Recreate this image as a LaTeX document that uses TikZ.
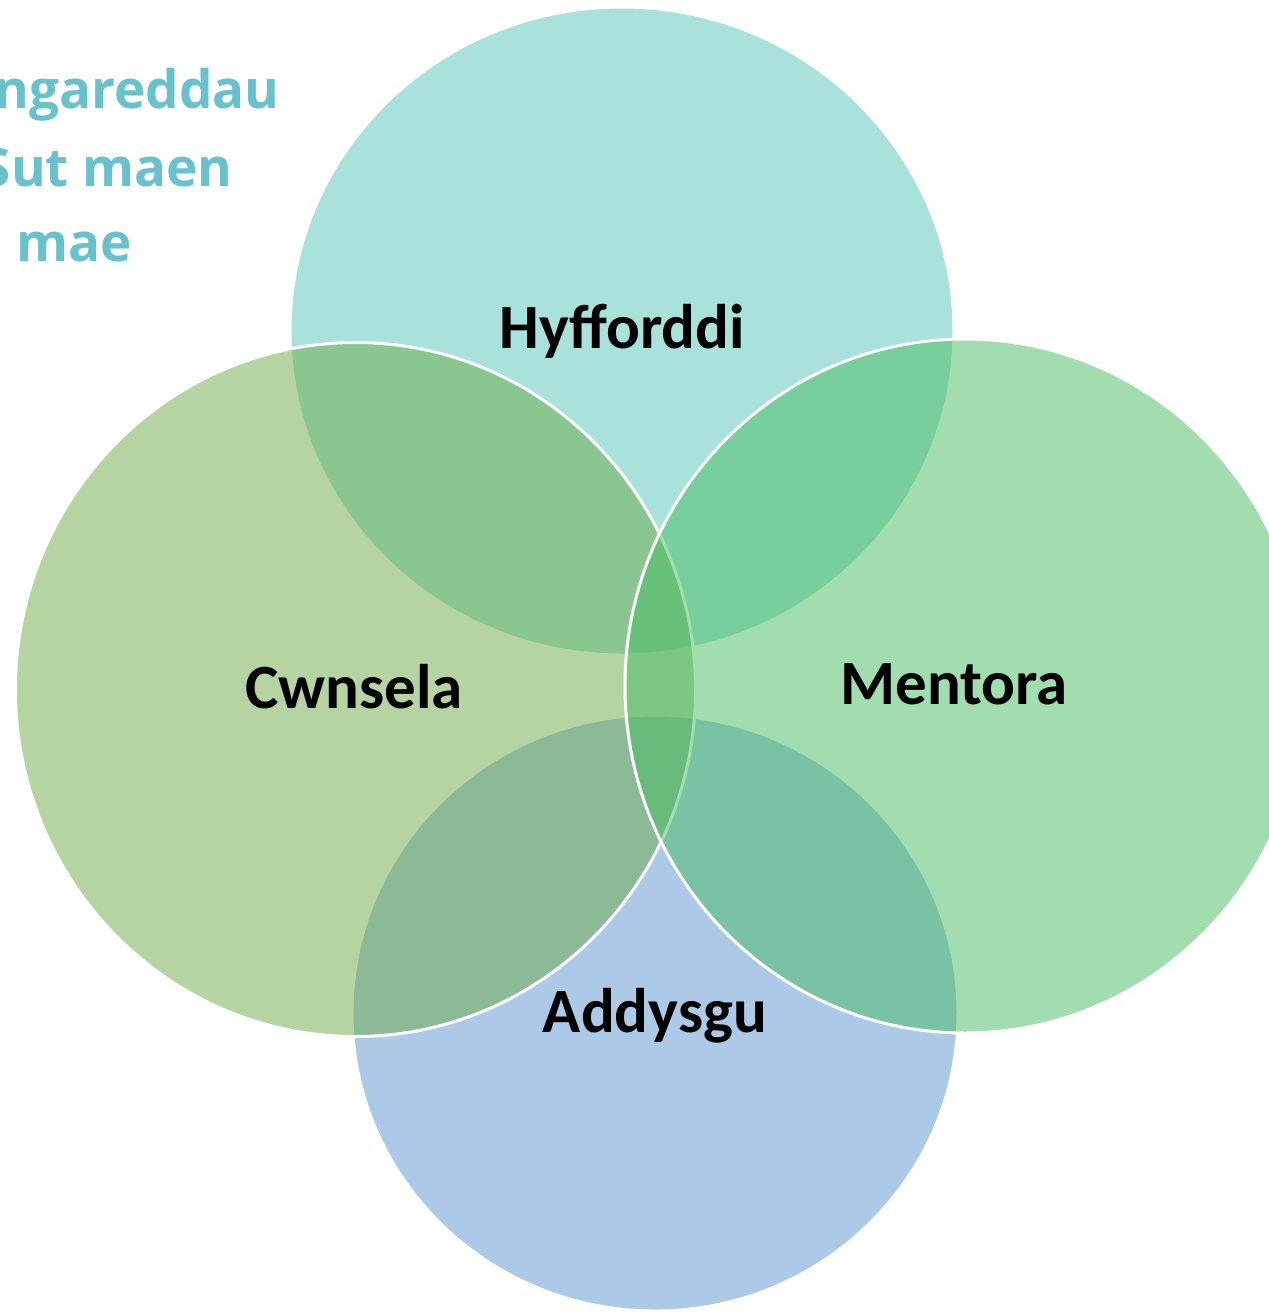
\documentclass[tikz,border=0pt]{standalone}
\usepackage{fontspec}
\setmainfont{Carlito}
\newfontfamily\headfont{Open Sans}
\definecolor{cTop}{RGB}{83,199,183}
\definecolor{cLeft}{RGB}{109,171,71}
\definecolor{cRight}{RGB}{71,189,97}
\definecolor{cBottom}{RGB}{91,151,211}
\definecolor{cHead}{RGB}{104,194,205}
\tikzset{
  vennset/.style={fill=#1, fill opacity=0.5, draw=white, draw opacity=1, line width=3pt},
  vlabel/.style={anchor=base, inner sep=0pt, font=\fontsize{63}{72}\selectfont\bfseries, text=black},
  headline/.style={anchor=base east, inner sep=0pt, font=\headfont\fontsize{53}{64}\selectfont\bfseries, text=cHead}
}
\begin{document}
\begin{tikzpicture}[x=1pt,y=-1pt]
\useasboundingbox (0,0) rectangle (1269,1312);
\clip (0,0) rectangle (1269,1312);
\fill[white] (0,0) rectangle (1269,1312);
% heading (clipped at the left, as in the reference)
\node[headline] (h1) at (280,108) {ngareddau};
\node[headline] (h2) at (233,186) {Sut maen};
\node[headline] (h3) at (132,261) {mae};
% sets
\path[vennset=cTop] (622,331) ellipse [x radius=332, y radius=324];
\path[vennset=cBottom] (655,1013) ellipse [x radius=303, y radius=298];
\path[vennset=cLeft] (355.5,689.5) ellipse [x radius=340, y radius=347];
\path[vennset=cRight] (965,686) ellipse [x radius=340, y radius=347];
% labels
\node[vlabel] (hyf) at (622,348) {Hyfforddi};
\node[vlabel] (cwn) at (354,708) {Cwnsela};
\node[vlabel] (men) at (954,704) {Mentora};
\node[vlabel] (add) at (655,1032) {Addysgu};
\end{tikzpicture}
\end{document}
